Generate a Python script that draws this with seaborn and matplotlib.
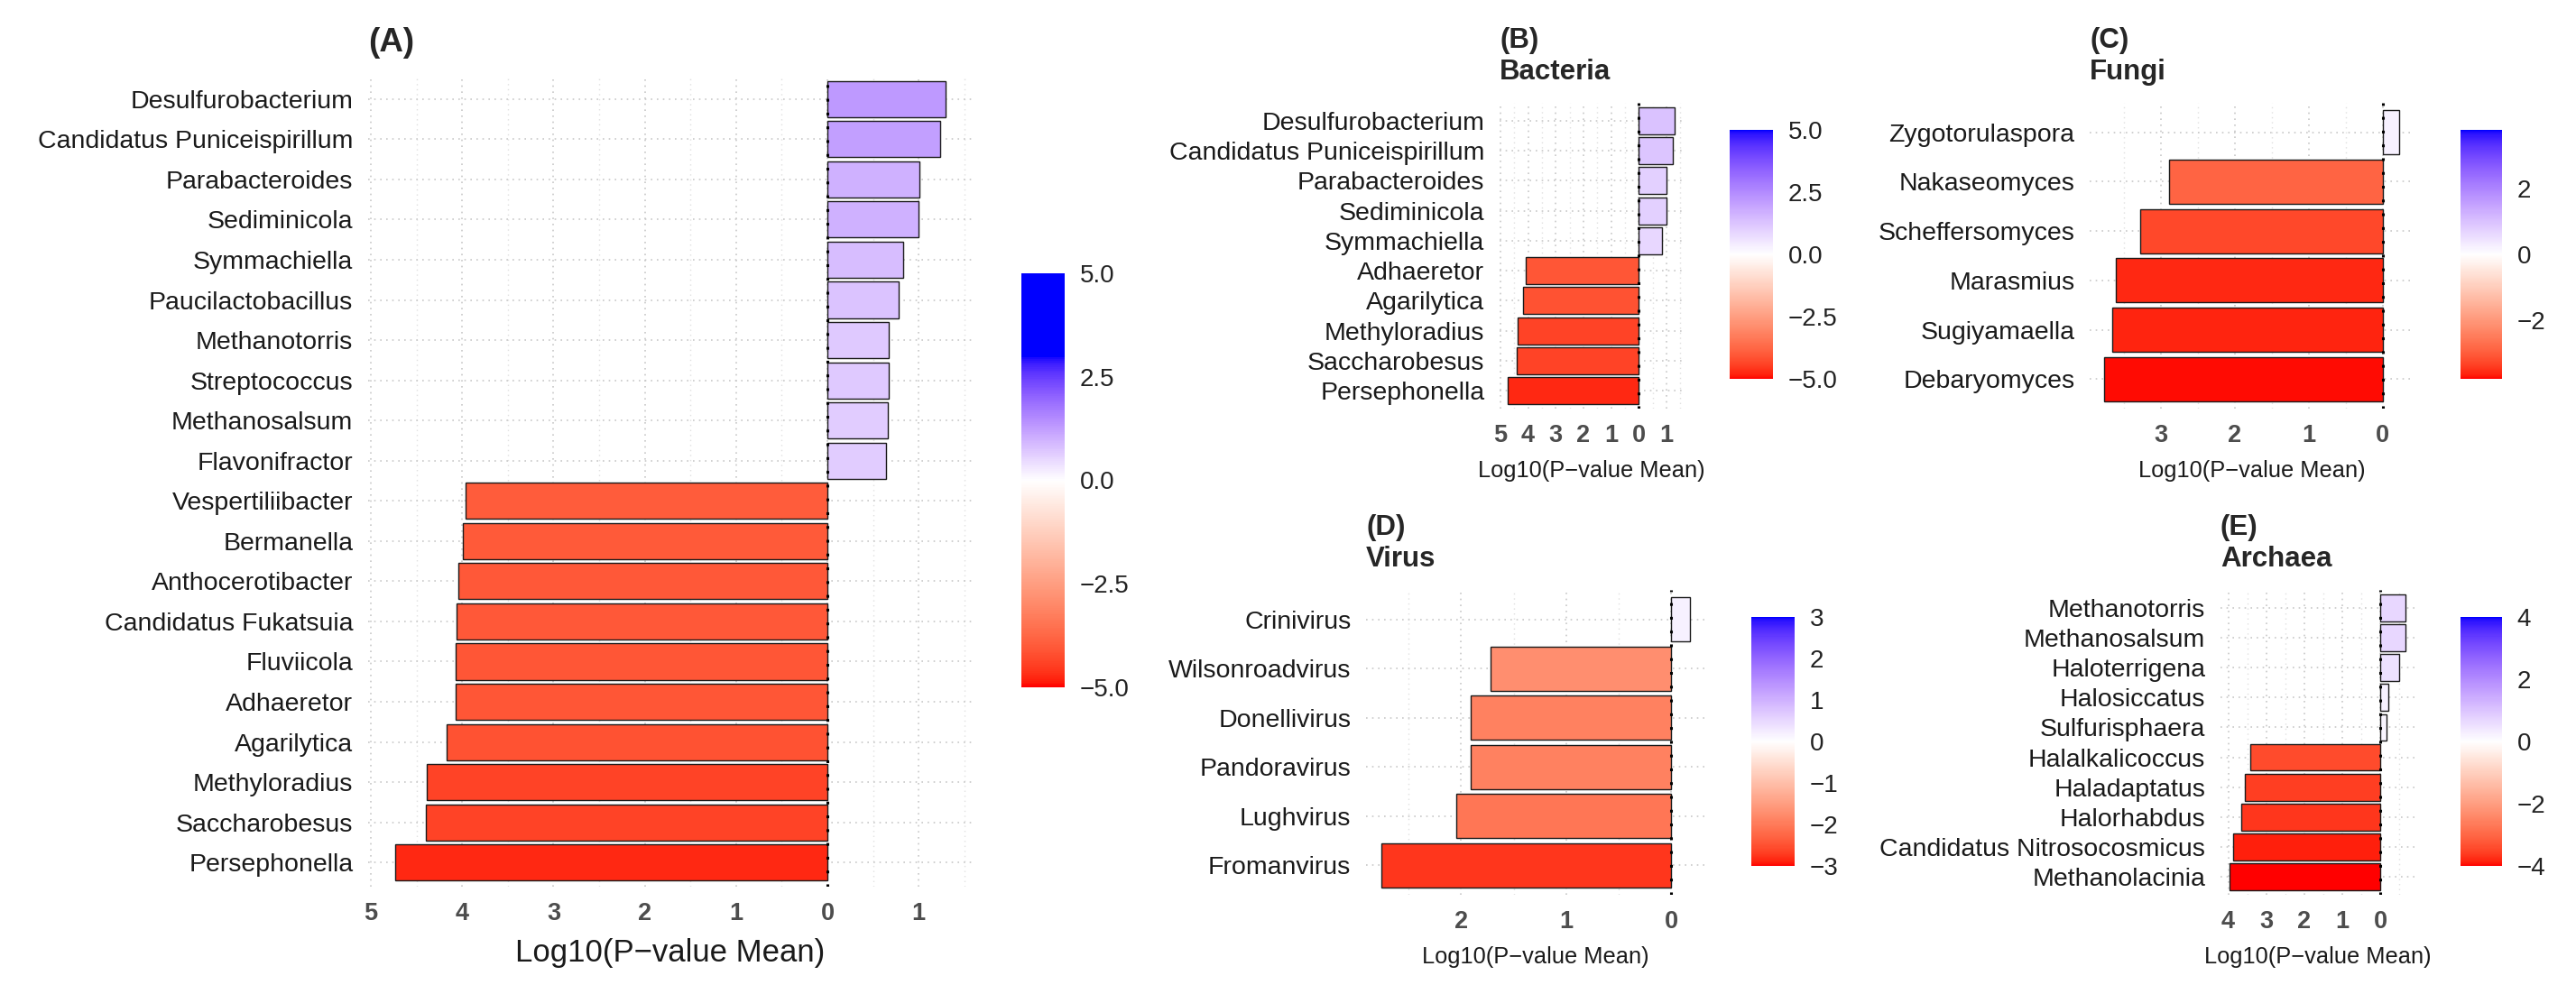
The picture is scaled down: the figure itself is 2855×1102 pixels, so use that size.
import numpy as np
import pandas as pd
import matplotlib
matplotlib.use('Agg')
import matplotlib.pyplot as plt
from matplotlib.colors import LinearSegmentedColormap, Normalize
from matplotlib.cm import ScalarMappable
from matplotlib.ticker import MultipleLocator, FixedLocator, FuncFormatter
import seaborn as sns

# ---- data (log10 p-value means) ----
a_names = ['Desulfurobacterium', 'Candidatus Puniceispirillum', 'Parabacteroides',
           'Sediminicola', 'Symmachiella', 'Paucilactobacillus', 'Methanotorris',
           'Streptococcus', 'Methanosalsum', 'Flavonifractor', 'Vespertiliibacter',
           'Bermanella', 'Anthocerotibacter', 'Candidatus Fukatsuia', 'Fluviicola',
           'Adhaeretor', 'Agarilytica', 'Methyloradius', 'Saccharobesus', 'Persephonella']
a_vals = [1.29, 1.24, 1.01, 1.00, 0.83, 0.78, 0.67, 0.67, 0.66, 0.64,
          -3.96, -3.99, -4.04, -4.06, -4.07, -4.07, -4.17, -4.39, -4.40, -4.73]

b_names = ['Desulfurobacterium', 'Candidatus Puniceispirillum', 'Parabacteroides',
           'Sediminicola', 'Symmachiella', 'Adhaeretor', 'Agarilytica',
           'Methyloradius', 'Saccharobesus', 'Persephonella']
b_vals = [1.29, 1.24, 1.01, 1.00, 0.83, -4.07, -4.17, -4.39, -4.40, -4.73]

c_names = ['Zygotorulaspora', 'Nakaseomyces', 'Scheffersomyces', 'Marasmius',
           'Sugiyamaella', 'Debaryomyces']
c_vals = [0.22, -2.88, -3.27, -3.61, -3.65, -3.76]

d_names = ['Crinivirus', 'Wilsonroadvirus', 'Donellivirus', 'Pandoravirus',
           'Lughvirus', 'Fromanvirus']
d_vals = [0.18, -1.72, -1.91, -1.91, -2.05, -2.76]

e_names = ['Methanotorris', 'Methanosalsum', 'Haloterrigena', 'Halosiccatus',
           'Sulfurisphaera', 'Halalkalicoccus', 'Haladaptatus', 'Halorhabdus',
           'Candidatus Nitrosocosmicus', 'Methanolacinia']
e_vals = [0.67, 0.66, 0.51, 0.22, 0.17, -3.42, -3.57, -3.66, -3.86, -3.97]

# colour bar limits and ticks per panel
a_lim, a_blue, a_cticks = 5.0, 3.0, [-5, -2.5, 0, 2.5, 5]
b_lim, b_cticks = 5.0, [-5, -2.5, 0, 2.5, 5]
c_lim, c_cticks = 3.8, [-2, 0, 2]
d_lim, d_cticks = 3.0, [-3, -2, -1, 0, 1, 2, 3]
e_lim, e_cticks = 4.0, [-4, -2, 0, 2, 4]

W, H = 2855, 1102
sns.set_style('white')
plt.rcParams['font.family'] = ['Liberation Sans', 'DejaVu Sans']

# ---- red-white-blue ramp interpolated in Lab, like ggplot's gradient2 ----
M = np.array([[0.4124, 0.3576, 0.1805], [0.2126, 0.7152, 0.0722], [0.0193, 0.1192, 0.9505]])
WP = np.array([0.95047, 1.0, 1.08883])

def to_lab(rgb):
    c = np.asarray(rgb, float)
    lin = np.where(c <= 0.04045, c / 12.92, ((c + 0.055) / 1.055) ** 2.4)
    xyz = M @ lin / WP
    f = np.where(xyz > 0.008856, np.cbrt(xyz), 7.787 * xyz + 16 / 116)
    return np.array([116 * f[1] - 16, 500 * (f[0] - f[1]), 200 * (f[1] - f[2])])

def from_lab(lab):
    fy = (lab[0] + 16) / 116
    f = np.array([fy + lab[1] / 500, fy, fy - lab[2] / 200])
    xyz = np.where(f ** 3 > 0.008856, f ** 3, (f - 16 / 116) / 7.787) * WP
    lin = np.clip(np.linalg.solve(M, xyz), 0, 1)
    return np.clip(np.where(lin <= 0.0031308, 12.92 * lin, 1.055 * lin ** (1 / 2.4) - 0.055), 0, 1)

RED, WHITE, BLUE = to_lab([1, 0, 0]), to_lab([1, 1, 1]), to_lab([0, 0, 1])

def make_cmap(lim, blue_at=None):
    blue_at = blue_at or lim
    cols = []
    for v in np.linspace(-lim, lim, 256):
        if v < 0:
            t = min(-v / lim, 1)
            cols.append(from_lab(WHITE + t * (RED - WHITE)))
        else:
            t = min(v / blue_at, 1)
            cols.append(from_lab(WHITE + t * (BLUE - WHITE)))
    return LinearSegmentedColormap.from_list('rwb', cols)

def box(x0, y0, x1, y1):
    return [x0 / W, 1 - y1 / H, (x1 - x0) / W, (y1 - y0) / H]

def fmt_minus(v, dec):
    s = f'{v:.{dec}f}'
    return s.replace('-', '\u2212')

def panel(ax, cax, names, vals, cmap, lim, cticks, cdec, title, title_size, xlab_size):
    norm = Normalize(-lim, lim)
    cols = [cmap(norm(v)) for v in vals]
    df = pd.DataFrame({'genus': names, 'logp': vals})
    sns.barplot(data=df, x='logp', y='genus', hue='genus', palette=cols, legend=False,
                width=0.9, saturation=1, edgecolor='#1a1a1a', linewidth=1.0, ax=ax)
    lo, hi = min(min(vals), 0), max(max(vals), 0)
    span = hi - lo
    ax.set_xlim(lo - 0.05 * span, hi + 0.05 * span)
    ax.set_ylim(len(names) - 1 + 0.6, -0.6)
    ax.axvline(0, color='black', ls=(0, (1, 4)), lw=2.2, zorder=5)

    xt = np.arange(np.ceil(ax.get_xlim()[0]), np.floor(ax.get_xlim()[1]) + 1)
    ax.set_xticks(xt)
    ax.set_xticklabels([f'{abs(v):g}' for v in xt], fontweight='bold')
    ax.xaxis.set_minor_locator(MultipleLocator(0.5))
    ax.grid(which='major', axis='both', color='#c8c8c8', ls=(0, (1, 3)), lw=1.2)
    ax.grid(which='minor', axis='x', color='#e0e0e0', ls=(0, (1, 3)), lw=1.0)
    ax.set_axisbelow(True)
    for s in ax.spines.values():
        s.set_visible(False)
    ax.tick_params(which='both', length=0)
    ax.tick_params(axis='y', labelsize=20.5, pad=12, labelcolor='#1a1a1a')
    ax.tick_params(axis='x', labelsize=19.5, pad=12, labelcolor='#4d4d4d')
    ax.set_ylabel('')
    ax.set_xlabel('Log10(P\u2212value Mean)', fontsize=xlab_size, labelpad=10, color='#1a1a1a')
    ax.set_title(title, loc='left', fontweight='bold', fontsize=title_size, pad=19)

    cb = plt.gcf().colorbar(ScalarMappable(norm=norm, cmap=cmap), cax=cax)
    cb.outline.set_visible(False)
    cb.set_ticks(cticks)
    cb.ax.set_yticklabels([fmt_minus(t, cdec) for t in cticks])
    cb.ax.tick_params(direction='in', length=8, width=1.2, color='white', left=True,
                      right=True, labelsize=20, pad=12, labelcolor='#222222')

fig = plt.figure(figsize=(W / 100, H / 100), dpi=100)

ax_a = fig.add_axes(box(408, 83, 1078, 983))
cax_a = fig.add_axes(box(1132, 303, 1180, 762))
panel(ax_a, cax_a, a_names, a_vals, make_cmap(a_lim, a_blue), a_lim, a_cticks, 1,
      '(A)', 26.5, 25)

ax_b = fig.add_axes(box(1662, 114, 1865, 453))
cax_b = fig.add_axes(box(1917, 144, 1965, 420))
panel(ax_b, cax_b, b_names, b_vals, make_cmap(b_lim), b_lim, b_cticks, 1,
      '(B)\nBacteria', 22.5, 18.3)

ax_c = fig.add_axes(box(2316, 114, 2675, 453))
cax_c = fig.add_axes(box(2727, 144, 2773, 420))
panel(ax_c, cax_c, c_names, c_vals, make_cmap(c_lim), c_lim, c_cticks, 0,
      '(C)\nFungi', 22.5, 18.3)

ax_d = fig.add_axes(box(1514, 654, 1890, 992))
cax_d = fig.add_axes(box(1941, 684, 1989, 960))
panel(ax_d, cax_d, d_names, d_vals, make_cmap(d_lim), d_lim, d_cticks, 0,
      '(D)\nVirus', 22.5, 18.3)

ax_e = fig.add_axes(box(2461, 654, 2676, 992))
cax_e = fig.add_axes(box(2727, 684, 2773, 960))
panel(ax_e, cax_e, e_names, e_vals, make_cmap(e_lim), e_lim, e_cticks, 0,
      '(E)\nArchaea', 22.5, 18.3)

fig.savefig('out.png', dpi=100, facecolor='white')
